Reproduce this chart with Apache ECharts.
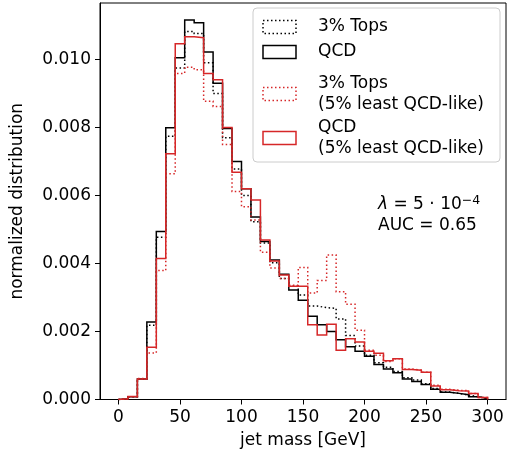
<!DOCTYPE html>
<html>
<head>
<meta charset="utf-8">
<script src="https://cdn.jsdelivr.net/npm/echarts@6/dist/echarts.min.js"></script>
<style>
html,body{margin:0;padding:0;background:#fff;}
#c{width:507px;height:458px;}
</style>
</head>
<body>
<div id="c"></div>
<script>
// Histogram binning: 39 equal bins between 0 and 300 GeV
const BIN_MIN = 0;
const BIN_MAX = 300;
const N_BINS = 39;

// normalized distributions per bin
const tops3 = [0.00002,0.00008,0.0006,0.00218,0.00477,0.00774,0.00975,0.01082,0.01076,0.0099,
  0.009,0.0077,0.00678,0.006,0.00523,0.0046,0.00402,0.00356,0.00333,0.00307,
  0.00275,0.0027,0.00268,0.00237,0.00188,0.00157,0.0013,0.00108,0.00095,0.00082,
  0.00064,0.00057,0.00046,0.00032,0.00022,0.00018,0.00013,0.00008,0.00003];
const qcd = [0.00002,0.00008,0.0006,0.00228,0.00494,0.00799,0.01005,0.01116,0.01108,0.01022,
  0.0093,0.00797,0.007,0.0062,0.00537,0.00465,0.0041,0.00368,0.00322,0.00292,
  0.00245,0.0022,0.002,0.00176,0.00155,0.00142,0.00127,0.00103,0.0009,0.00079,
  0.0006,0.00053,0.00044,0.0003,0.00021,0.00018,0.00014,0.00008,0.00003];
const tops3Least = [0.00002,0.00008,0.00062,0.00137,0.00379,0.00664,0.00959,0.00977,0.0097,0.00877,
  0.00862,0.0075,0.00612,0.00567,0.00528,0.00433,0.00387,0.00356,0.00336,0.00388,
  0.00313,0.0035,0.00425,0.00317,0.0028,0.00204,0.00145,0.0013,0.00112,0.0012,
  0.0009,0.00086,0.0008,0.00042,0.0003,0.00027,0.00026,0.00018,0.00006];
const qcdLeast = [0.00002,0.00009,0.0006,0.00154,0.00415,0.00723,0.01046,0.01067,0.01064,0.00959,
  0.0094,0.008,0.00668,0.0062,0.00587,0.00469,0.00407,0.00366,0.00333,0.00333,
  0.0022,0.0019,0.00221,0.00145,0.00179,0.00169,0.00142,0.00136,0.00114,0.0012,
  0.00088,0.00086,0.0008,0.0004,0.00029,0.00026,0.00025,0.00018,0.00006];

const xTicks = [0,50,100,150,200,250,300];
const yTicks = [0,0.002,0.004,0.006,0.008,0.010];

const seriesNames = ['3% Tops','QCD','3% Tops\n(5% least QCD-like)','QCD\n(5% least QCD-like)'];

const edges = [];
for (let k = 0; k <= N_BINS; k++) edges.push(BIN_MIN + (BIN_MAX - BIN_MIN) * k / N_BINS);

function stepData(vals) {
  const pts = [[edges[0], 0]];
  for (let i = 0; i < vals.length; i++) pts.push([edges[i], vals[i]]);
  pts.push([edges[vals.length], 0]);
  return pts;
}

const FONT = 'DejaVu Sans';
const FS = 17;
const RED = '#d62728';
const chart = echarts.init(document.getElementById('c'), null, {renderer:'canvas'});

function mkSeries(name, vals, color, dotted) {
  return {
    name: name, type: 'line', step: 'end', data: stepData(vals),
    symbol: 'none', animation: false, silent: true,
    lineStyle: {color: color, width: 1.5, type: dotted ? [1.5, 2.5] : 'solid', cap: 'butt', join: 'miter'}
  };
}

const legendX = 253, legendY = 8;
const graphics = [
  {type:'rect', shape:{x:legendX, y:legendY, width:247, height:154, r:4},
   style:{fill:'rgba(255,255,255,0.8)', stroke:'#cccccc', lineWidth:1}, z:100},
];
const entries = [
  {name: seriesNames[0], color:'#000', dotted:true, y:27},
  {name: seriesNames[1], color:'#000', dotted:false, y:52},
  {name: seriesNames[2], color:RED, dotted:true, y:94},
  {name: seriesNames[3], color:RED, dotted:false, y:138},
];
entries.forEach(e => {
  graphics.push({type:'rect', shape:{x:263, y:e.y-6.5, width:33, height:13},
    style:{fill:'none', stroke:e.color, lineWidth:1.5, lineDash: e.dotted ? [1.5,2.5] : null}, z:101});
  graphics.push({type:'text', x:318, y:e.y,
    style:{text:e.name, font:FS+'px "'+FONT+'"', fill:'#000', verticalAlign:'middle', textAlign:'left', lineHeight:20.5}, z:101});
});
graphics.push({type:'text', x:378, y:205,
  style:{text:'{i|λ} = 5 · 10{s|−4}', verticalAlign:'middle', font:FS+'px "'+FONT+'"', fill:'#000',
    rich:{i:{fontStyle:'italic', fontSize:FS, fontFamily:FONT}, s:{fontSize:12.5, fontFamily:FONT, verticalAlign:'top', padding:[0,0,9,0]}}}, z:101});
graphics.push({type:'text', x:378, y:226,
  style:{text:'AUC = 0.65', verticalAlign:'middle', font:FS+'px "'+FONT+'"', fill:'#000'}, z:101});

chart.setOption({
  animation: false,
  backgroundColor: '#fff',
  textStyle: {fontFamily: FONT},
  grid: {left:100, top:3, width:406, height:396.5, show:true, borderColor:'#000', borderWidth:1, containLabel:false},
  xAxis: {
    type:'value', min:-15, max:315,
    name:'jet mass [GeV]', nameLocation:'middle', nameGap:33,
    nameTextStyle:{fontSize:FS, color:'#000', fontFamily:FONT},
    axisLine:{show:true, onZero:false, lineStyle:{color:'#000', width:1}},
    axisTick:{show:true, inside:false, length:5, lineStyle:{color:'#000', width:1}, customValues:xTicks},
    axisLabel:{show:true, color:'#000', fontSize:FS, fontFamily:FONT, margin:10, customValues:xTicks},
    splitLine:{show:false}
  },
  yAxis: {
    type:'value', min:0, max:0.01166,
    name:'normalized distribution', nameLocation:'middle', nameGap:74,
    nameTextStyle:{fontSize:FS, color:'#000', fontFamily:FONT},
    axisLine:{show:true, onZero:false, lineStyle:{color:'#000', width:1}},
    axisTick:{show:true, inside:false, length:5, lineStyle:{color:'#000', width:1}, customValues:yTicks},
    axisLabel:{show:true, color:'#000', fontSize:FS, fontFamily:FONT, margin:9, customValues:yTicks,
      formatter: v => v.toFixed(3)},
    splitLine:{show:false}
  },
  series: [
    mkSeries(seriesNames[0], tops3, '#000', true),
    mkSeries(seriesNames[1], qcd, '#000', false),
    mkSeries(seriesNames[2], tops3Least, RED, true),
    mkSeries(seriesNames[3], qcdLeast, RED, false),
  ],
  graphic: graphics
});
</script>
</body>
</html>
